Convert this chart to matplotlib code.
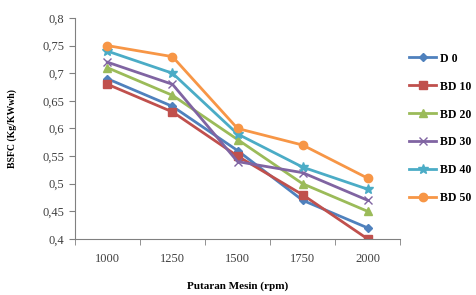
import numpy as np
import matplotlib
matplotlib.use('Agg')
import matplotlib.pyplot as plt

# data
rpm = ['1000', '1250', '1500', '1750', '2000']
d0 = [0.69, 0.64, 0.56, 0.47, 0.42]
bd10 = [0.68, 0.63, 0.55, 0.48, 0.40]
bd20 = [0.71, 0.66, 0.58, 0.50, 0.45]
bd30 = [0.72, 0.68, 0.54, 0.52, 0.47]
bd40 = [0.74, 0.70, 0.59, 0.53, 0.49]
bd50 = [0.75, 0.73, 0.60, 0.57, 0.51]

plt.rcParams['font.family'] = ['Liberation Serif', 'DejaVu Serif']

fig = plt.figure(figsize=(4.77, 2.95), dpi=100)
ax = fig.add_axes([0.157, 0.19, 0.682, 0.749])

x = np.arange(len(rpm))
series = [
    ('D 0', d0, '#4F81BD', 'D', 4),
    ('BD 10', bd10, '#C0504D', 's', 6),
    ('BD 20', bd20, '#9BBB59', '^', 6),
    ('BD 30', bd30, '#8064A2', 'x', 6),
    ('BD 40', bd40, '#4BACC6', '*', 7),
    ('BD 50', bd50, '#F79646', 'o', 6),
]
for name, vals, col, mk, ms in series:
    ax.plot(x, vals, color=col, marker=mk, markersize=ms, linewidth=2,
            markeredgecolor=col, label=name)

ax.set_xlim(-0.5, 4.5)
ax.set_ylim(0.4, 0.8)
ax.set_yticks(np.arange(0.4, 0.801, 0.05))
ax.set_yticklabels([('%g' % v).replace('.', ',') for v in np.arange(0.4, 0.801, 0.05)])
ax.set_xticks(x)
ax.set_xticklabels(rpm)
ax.set_xticks(np.arange(-0.5, 4.6, 1), minor=True)
ax.tick_params(axis='x', which='major', length=0, pad=10)
ax.tick_params(axis='x', which='minor', length=4, color='#808080')
ax.tick_params(axis='y', length=4, color='#808080')
ax.tick_params(labelsize=9, labelcolor='#404040')

for s in ['top', 'right']:
    ax.spines[s].set_visible(False)
for s in ['left', 'bottom']:
    ax.spines[s].set_color('#808080')

ax.set_ylabel('BSFC (Kg/KWwh)', fontsize=7, fontweight='bold', labelpad=18)
ax.set_xlabel('Putaran Mesin (rpm)', fontsize=8, fontweight='bold', labelpad=12)

ax.legend(loc='center left', bbox_to_anchor=(0.995, 0.5), frameon=False,
          labelspacing=1.35, handlelength=2.3, handletextpad=0.3,
          prop={'weight': 'bold', 'size': 8.5})

fig.savefig('out.png', dpi=100)
